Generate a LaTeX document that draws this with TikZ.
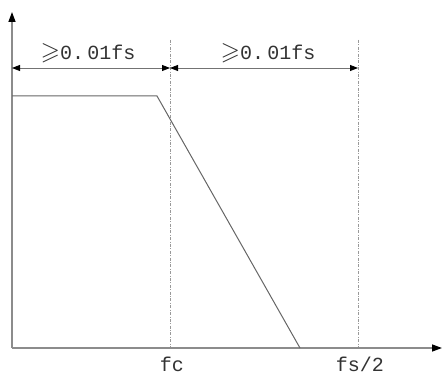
\documentclass[tikz,border=0pt]{standalone}
\usepackage{amssymb}
\usepackage{fontspec}
\setmonofont{Liberation Mono}
\usetikzlibrary{arrows.meta}
\begin{document}
\begin{tikzpicture}[x=1pt,y=-1pt,
  axis/.style={draw=black!45,line width=1.3pt,-{Triangle[length=10pt,width=7pt,color=black]}},
  guide/.style={draw=black!40,line width=0.6pt,dash pattern=on 3pt off 1.5pt on 0.8pt off 1.5pt},
  dim/.style={draw=black!55,line width=0.9pt,{Triangle[length=8pt,width=6pt,color=black]}-{Triangle[length=8pt,width=6pt,color=black]}},
  curve/.style={draw=black!60,line width=1pt},
  lbl/.style={font=\ttfamily\fontsize{20}{20}\selectfont,text=black!80,inner sep=0pt}]
\useasboundingbox (0,0) rectangle (442,374);
\coordinate (O) at (12,348);
\coordinate (Ytop) at (12,12);
\coordinate (Xend) at (442,348);
\coordinate (fcTop) at (170,40);
\coordinate (fcBot) at (170,348);
\coordinate (fsTop) at (358,40);
\coordinate (fsBot) at (358,348);
\coordinate (A1) at (12,68);
\coordinate (A2) at (170,68);
\coordinate (A3) at (358,68);
\coordinate (P1) at (12,96);
\coordinate (P2) at (157,96);
\coordinate (P3) at (300,348);
\draw[guide] (fcTop) -- (fcBot);
\draw[guide] (fsTop) -- (fsBot);
\draw[axis] (O) -- (Ytop);
\draw[axis] (O) -- (Xend);
\draw[curve] (P1) -- (P2) -- (P3);
\draw[dim] (A1) -- (A2);
\draw[dim] (A2) -- (A3);
\node[lbl] (l1) at (88,53) {\scalebox{1.25}{$\geqslant$}0.\,01fs};
\node[lbl] (l2) at (268,53) {\scalebox{1.25}{$\geqslant$}0.\,01fs};
\node[lbl] (fc) at (172,364) {fc};
\node[lbl] (fs) at (360,364) {fs/2};
\end{tikzpicture}
\end{document}
